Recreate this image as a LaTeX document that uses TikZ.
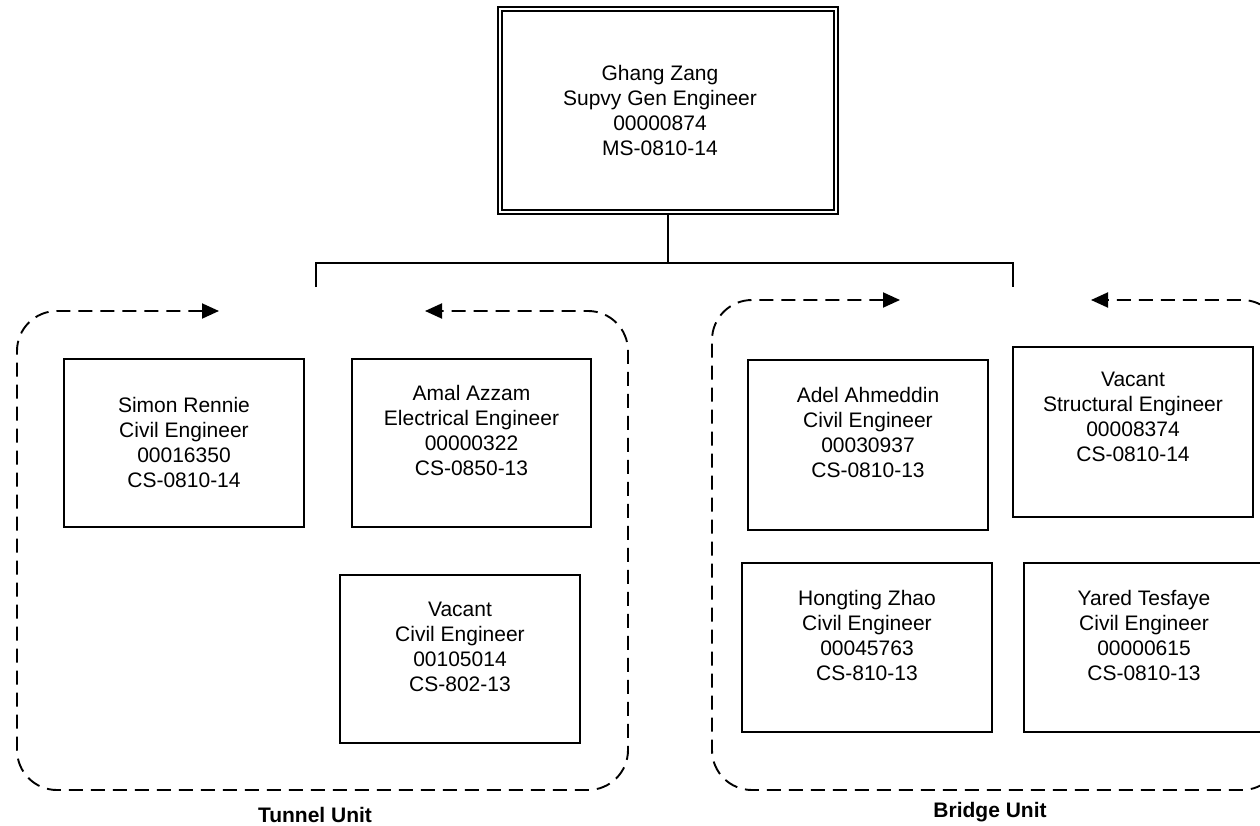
\documentclass[tikz,border=0pt]{standalone}
\usepackage{fontspec}
\setmainfont{Liberation Sans}
\usetikzlibrary{arrows.meta}
\begin{document}
\begin{tikzpicture}[x=1pt,y=-1pt,
  box/.style={draw,line width=1.9pt,rectangle,inner sep=0pt,minimum width=240pt,minimum height=168pt},
  txt/.style={anchor=north,align=center,inner sep=0pt,font=\fontsize{21}{25}\selectfont},
  conn/.style={line width=1.9pt},
  unitframe/.style={line width=1.9pt,dash pattern=on 14pt off 8pt,rounded corners=40pt,
    {Triangle[length=17pt,width=15pt]}-{Triangle[length=17pt,width=15pt]}},
  unitlabel/.style={anchor=base,inner sep=0pt,font=\fontsize{21}{25}\selectfont\bfseries}]
\useasboundingbox (0,0) rectangle (1260,826);
\clip (0,0) rectangle (1260,826);

% top box
\node[draw,line width=1.7pt,double,double distance=2.8pt,minimum width=336pt,minimum height=203pt,inner sep=0pt] (top) at (668,110.5) {};
\node[txt] (topt) at (660,65) {Ghang Zang\\Supvy Gen Engineer\\00000874\\MS-0810-14};

% connectors
\coordinate (hub) at (668,263);
\coordinate (lt) at (316,263);
\coordinate (rt) at (1013,263);
\coordinate (ltd) at (316,287);
\coordinate (rtd) at (1013,287);
\draw[conn] (top.south) -- (hub);
\draw[conn] (ltd) -- (lt) -- (rt) -- (rtd);

% tunnel unit frame
\coordinate (ta) at (219,311);
\coordinate (tb) at (17,311);
\coordinate (tc) at (17,790);
\coordinate (td) at (628,790);
\coordinate (te) at (628,311);
\coordinate (tf) at (425,311);
\draw[unitframe] (ta) -- (tb) -- (tc) -- (td) -- (te) -- (tf);
\node[unitlabel] (tunnel) at (315,822) {Tunnel Unit};

% bridge unit frame
\coordinate (ba) at (900,300);
\coordinate (bb) at (712,300);
\coordinate (bc) at (712,790);
\coordinate (bd) at (1282,790);
\coordinate (be) at (1282,300);
\coordinate (bf) at (1091,300);
\draw[unitframe] (ba) -- (bb) -- (bc) -- (bd) -- (be) -- (bf);
\node[unitlabel] (bridge) at (990,817) {Bridge Unit};

% tunnel boxes
\node[box] (simon) at (184,443) {};
\node[txt] (simont) at (184,397) {Simon Rennie\\Civil Engineer\\00016350\\CS-0810-14};
\node[box,minimum width=239pt] (amal) at (471.5,443) {};
\node[txt] (amalt) at (471.5,385) {Amal Azzam\\Electrical Engineer\\00000322\\CS-0850-13};
\node[box] (vact) at (460,659) {};
\node[txt] (vactt) at (460,602) {Vacant\\Civil Engineer\\00105014\\CS-802-13};

% bridge boxes
\node[box,minimum height=170pt] (adel) at (868,445) {};
\node[txt] (adelt) at (868,387) {Adel Ahmeddin\\Civil Engineer\\00030937\\CS-0810-13};
\node[box,minimum height=170pt] (vacs) at (1133,432) {};
\node[txt] (vacst) at (1133,372) {Vacant\\Structural Engineer\\00008374\\CS-0810-14};
\node[box,minimum width=250pt,minimum height=169pt] (hong) at (867,647.5) {};
\node[txt] (hongt) at (867,590) {Hongting Zhao\\Civil Engineer\\00045763\\CS-810-13};
\node[box,minimum height=169pt] (yared) at (1144,647.5) {};
\node[txt] (yaredt) at (1144,590) {Yared Tesfaye\\Civil Engineer\\00000615\\CS-0810-13};
\end{tikzpicture}
\end{document}
